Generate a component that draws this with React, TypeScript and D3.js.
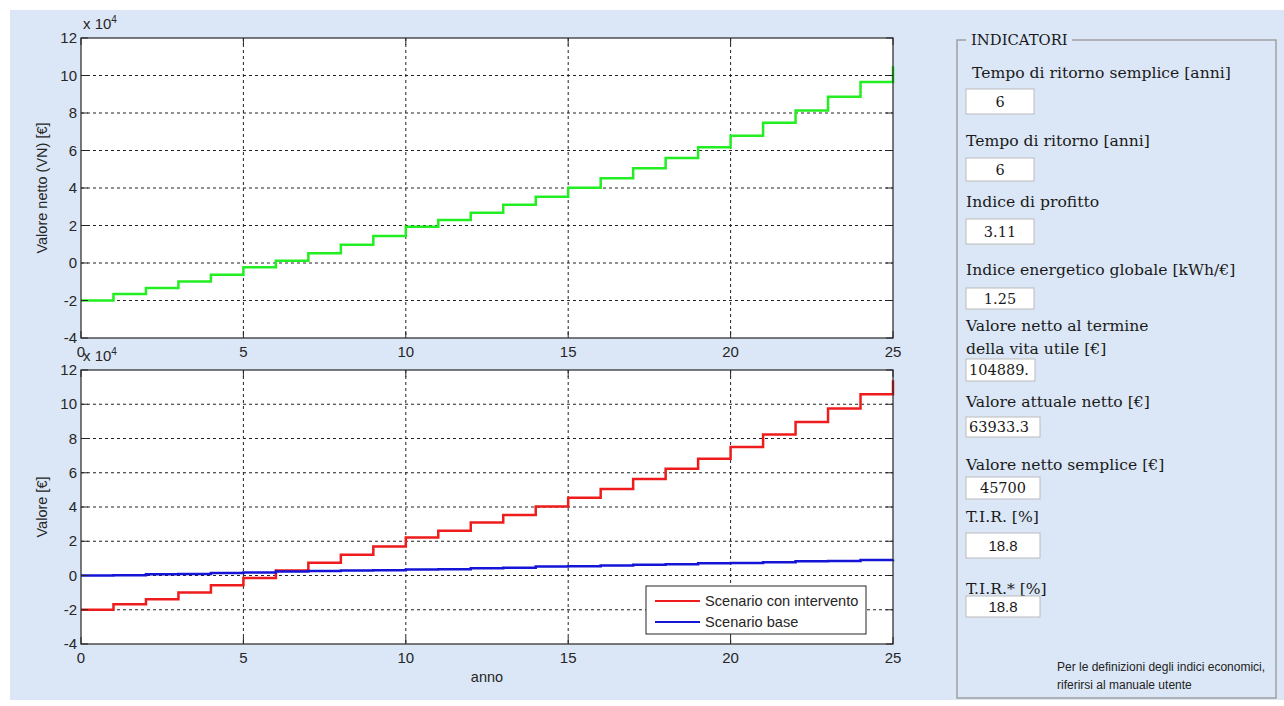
import React from "react";
import * as d3 from "d3";

const years = d3.range(0, 26);
const netValue = [-20000, -16500, -13300, -9800, -6200, -2300, 1200, 5200, 9800, 14400, 19400, 22900, 26800, 31100, 35400, 40200, 45200, 50500, 56000, 61700, 67900, 74800, 81400, 88700, 96500, 104889];
const withIntervention = [-20000, -16800, -13800, -9900, -5700, -1400, 2900, 7400, 12100, 17000, 22200, 26100, 30900, 35300, 40300, 45400, 50500, 56300, 62400, 68200, 75000, 82400, 89600, 97500, 105800, 114000];
const baseScenario = [0, 200, 700, 900, 1500, 1700, 2400, 2600, 2900, 3100, 3500, 3700, 4300, 4500, 5200, 5400, 5800, 6300, 6500, 7100, 7300, 7800, 8300, 8500, 9100, 9400];
const yTicks = [-4, -2, 0, 2, 4, 6, 8, 10, 12];
const xTicks = [0, 5, 10, 15, 20, 25];

const indicators = [
  { label: ["Tempo di ritorno semplice [anni]"], value: "6" },
  { label: ["Tempo di ritorno [anni]"], value: "6" },
  { label: ["Indice di profitto"], value: "3.11" },
  { label: ["Indice energetico globale [kWh/€]"], value: "1.25" },
  { label: ["Valore netto al termine", "della vita utile [€]"], value: "104889." },
  { label: ["Valore attuale netto [€]"], value: "63933.3" },
  { label: ["Valore netto semplice [€]"], value: "45700" },
  { label: ["T.I.R. [%]"], value: "18.8" },
  { label: ["T.I.R.* [%]"], value: "18.8" },
];

const BG = "#dbe7f6";
const AX = "#262626";
const SANS = "Liberation Sans, Arial, sans-serif";
const SERIF = "DejaVu Serif, serif";

function Plot({ top, bottom, series, ylabel, xlabel }: any) {
  const left = 81, right = 893;
  const x = d3.scaleLinear().domain([0, 25]).range([left, right]);
  const y = d3.scaleLinear().domain([-4, 12]).range([bottom, top]);
  const line = d3.line<number>().x((_, i) => x(years[i])).y((d) => y(d / 1e4)).curve(d3.curveStepAfter);
  return (
    <g>
      <rect x={left} y={top} width={right - left} height={bottom - top} fill="#fff" />
      {xTicks.slice(1, -1).map((t) => (
        <line key={"gx" + t} x1={x(t)} x2={x(t)} y1={top} y2={bottom} stroke="#222" strokeWidth={1} strokeDasharray="3,3" />
      ))}
      {yTicks.slice(1, -1).map((t) => (
        <line key={"gy" + t} x1={left} x2={right} y1={y(t)} y2={y(t)} stroke="#222" strokeWidth={1} strokeDasharray="3,3" />
      ))}
      {series.map((s: any, i: number) => (
        <path key={i} d={line(s.values) || ""} fill="none" stroke={s.color} strokeWidth={2.5} />
      ))}
      <rect x={left} y={top} width={right - left} height={bottom - top} fill="none" stroke={AX} strokeWidth={1.2} />
      {xTicks.map((t) => (
        <g key={"tx" + t}>
          <line x1={x(t)} x2={x(t)} y1={bottom} y2={bottom - 7} stroke={AX} />
          <line x1={x(t)} x2={x(t)} y1={top} y2={top + 7} stroke={AX} />
          <text x={x(t)} y={bottom + 19} textAnchor="middle" fontFamily={SANS} fontSize={15} fill={AX}>{t}</text>
        </g>
      ))}
      {yTicks.map((t) => (
        <g key={"ty" + t}>
          <line x1={left} x2={left + 7} y1={y(t)} y2={y(t)} stroke={AX} />
          <line x1={right} x2={right - 7} y1={y(t)} y2={y(t)} stroke={AX} />
          <text x={left - 4} y={y(t) + 5} textAnchor="end" fontFamily={SANS} fontSize={15} fill={AX}>{t}</text>
        </g>
      ))}
      <text x={left + 2} y={top - 9} fontFamily={SANS} fontSize={15} fill={AX}>
        x 10<tspan dy={-6} fontSize={10}>4</tspan>
      </text>
      <text transform={`translate(47,${(top + bottom) / 2}) rotate(-90)`} textAnchor="middle" fontFamily={SANS} fontSize={14.5} fill={AX}>{ylabel}</text>
      {xlabel && (
        <text x={(left + right) / 2} y={bottom + 38} textAnchor="middle" fontFamily={SANS} fontSize={14.5} fill={AX}>{xlabel}</text>
      )}
    </g>
  );
}

export default function App() {
  const boxTops = [89, 158, 219, 288, 359, 417, 477, 533, 596];
  const boxW = [68, 68, 68, 68, 69, 74, 74, 74, 74];
  const boxH = [25, 23, 25, 21, 22, 20, 22, 25, 21];
  const labelYs = [[78], [146], [207], [275], [331, 354], [407], [470], [522], [594]];
  return (
    <svg width={1284} height={706} style={{ display: "block", position: "absolute", left: 0, top: 0 }}>
      <rect x={10} y={10} width={1274} height={690} fill={BG} />
      <Plot top={38} bottom={338} ylabel="Valore netto (VN) [€]"
        series={[{ values: netValue, color: "#22ee22" }]} />
      <Plot top={370} bottom={644} ylabel="Valore [€]" xlabel="anno"
        series={[{ values: withIntervention, color: "#ee1c1c" }, { values: baseScenario, color: "#1515d8" }]} />
      {/* legend */}
      <g>
        <rect x={646} y={586} width={220} height={48} fill="#fff" stroke={AX} strokeWidth={1} />
        <line x1={655} x2={700} y1={601} y2={601} stroke="#ee1c1c" strokeWidth={2} />
        <text x={705} y={606} fontFamily={SANS} fontSize={14.6} fill={AX}>Scenario con intervento</text>
        <line x1={655} x2={700} y1={622} y2={622} stroke="#1515d8" strokeWidth={2} />
        <text x={705} y={627} fontFamily={SANS} fontSize={14.6} fill={AX}>Scenario base</text>
      </g>
      {/* indicator panel */}
      <g>
        <path d="M 1072 40 L 1276 40 L 1276 698 L 957 698 L 957 40 L 966 40" fill="none" stroke="#a0a0a0" strokeWidth={1.5} />
        <text x={971} y={45} fontFamily={SERIF} fontSize={14.8} fill="#1a1a1a">INDICATORI</text>
        {indicators.map((ind, i) => {
          const sansVal = i >= 7;
          return (
            <g key={i}>
              {ind.label.map((l, j) => (
                <text key={j} x={i === 0 ? 972 : 966} y={labelYs[i][j]} fontFamily={SERIF} fontSize={15.6} fill="#1a1a1a">{l}</text>
              ))}
              <rect x={966} y={boxTops[i]} width={boxW[i]} height={boxH[i]} fill="#fff" stroke="#bbb" strokeWidth={1} />
              <text x={ind.value.length > 5 ? 969 : 966 + boxW[i] / 2} y={boxTops[i] + boxH[i] / 2 + 5}
                textAnchor={ind.value.length > 5 ? "start" : "middle"}
                fontFamily={sansVal ? SANS : SERIF} fontSize={sansVal ? 15 : 14.5} fill="#1a1a1a">{ind.value}</text>
            </g>
          );
        })}
        <text x={1057} y={671} fontFamily={SANS} fontSize={12} fill="#222">Per le definizioni degli indici economici,</text>
        <text x={1057} y={689} fontFamily={SANS} fontSize={12} fill="#222">riferirsi al manuale utente</text>
      </g>
    </svg>
  );
}
